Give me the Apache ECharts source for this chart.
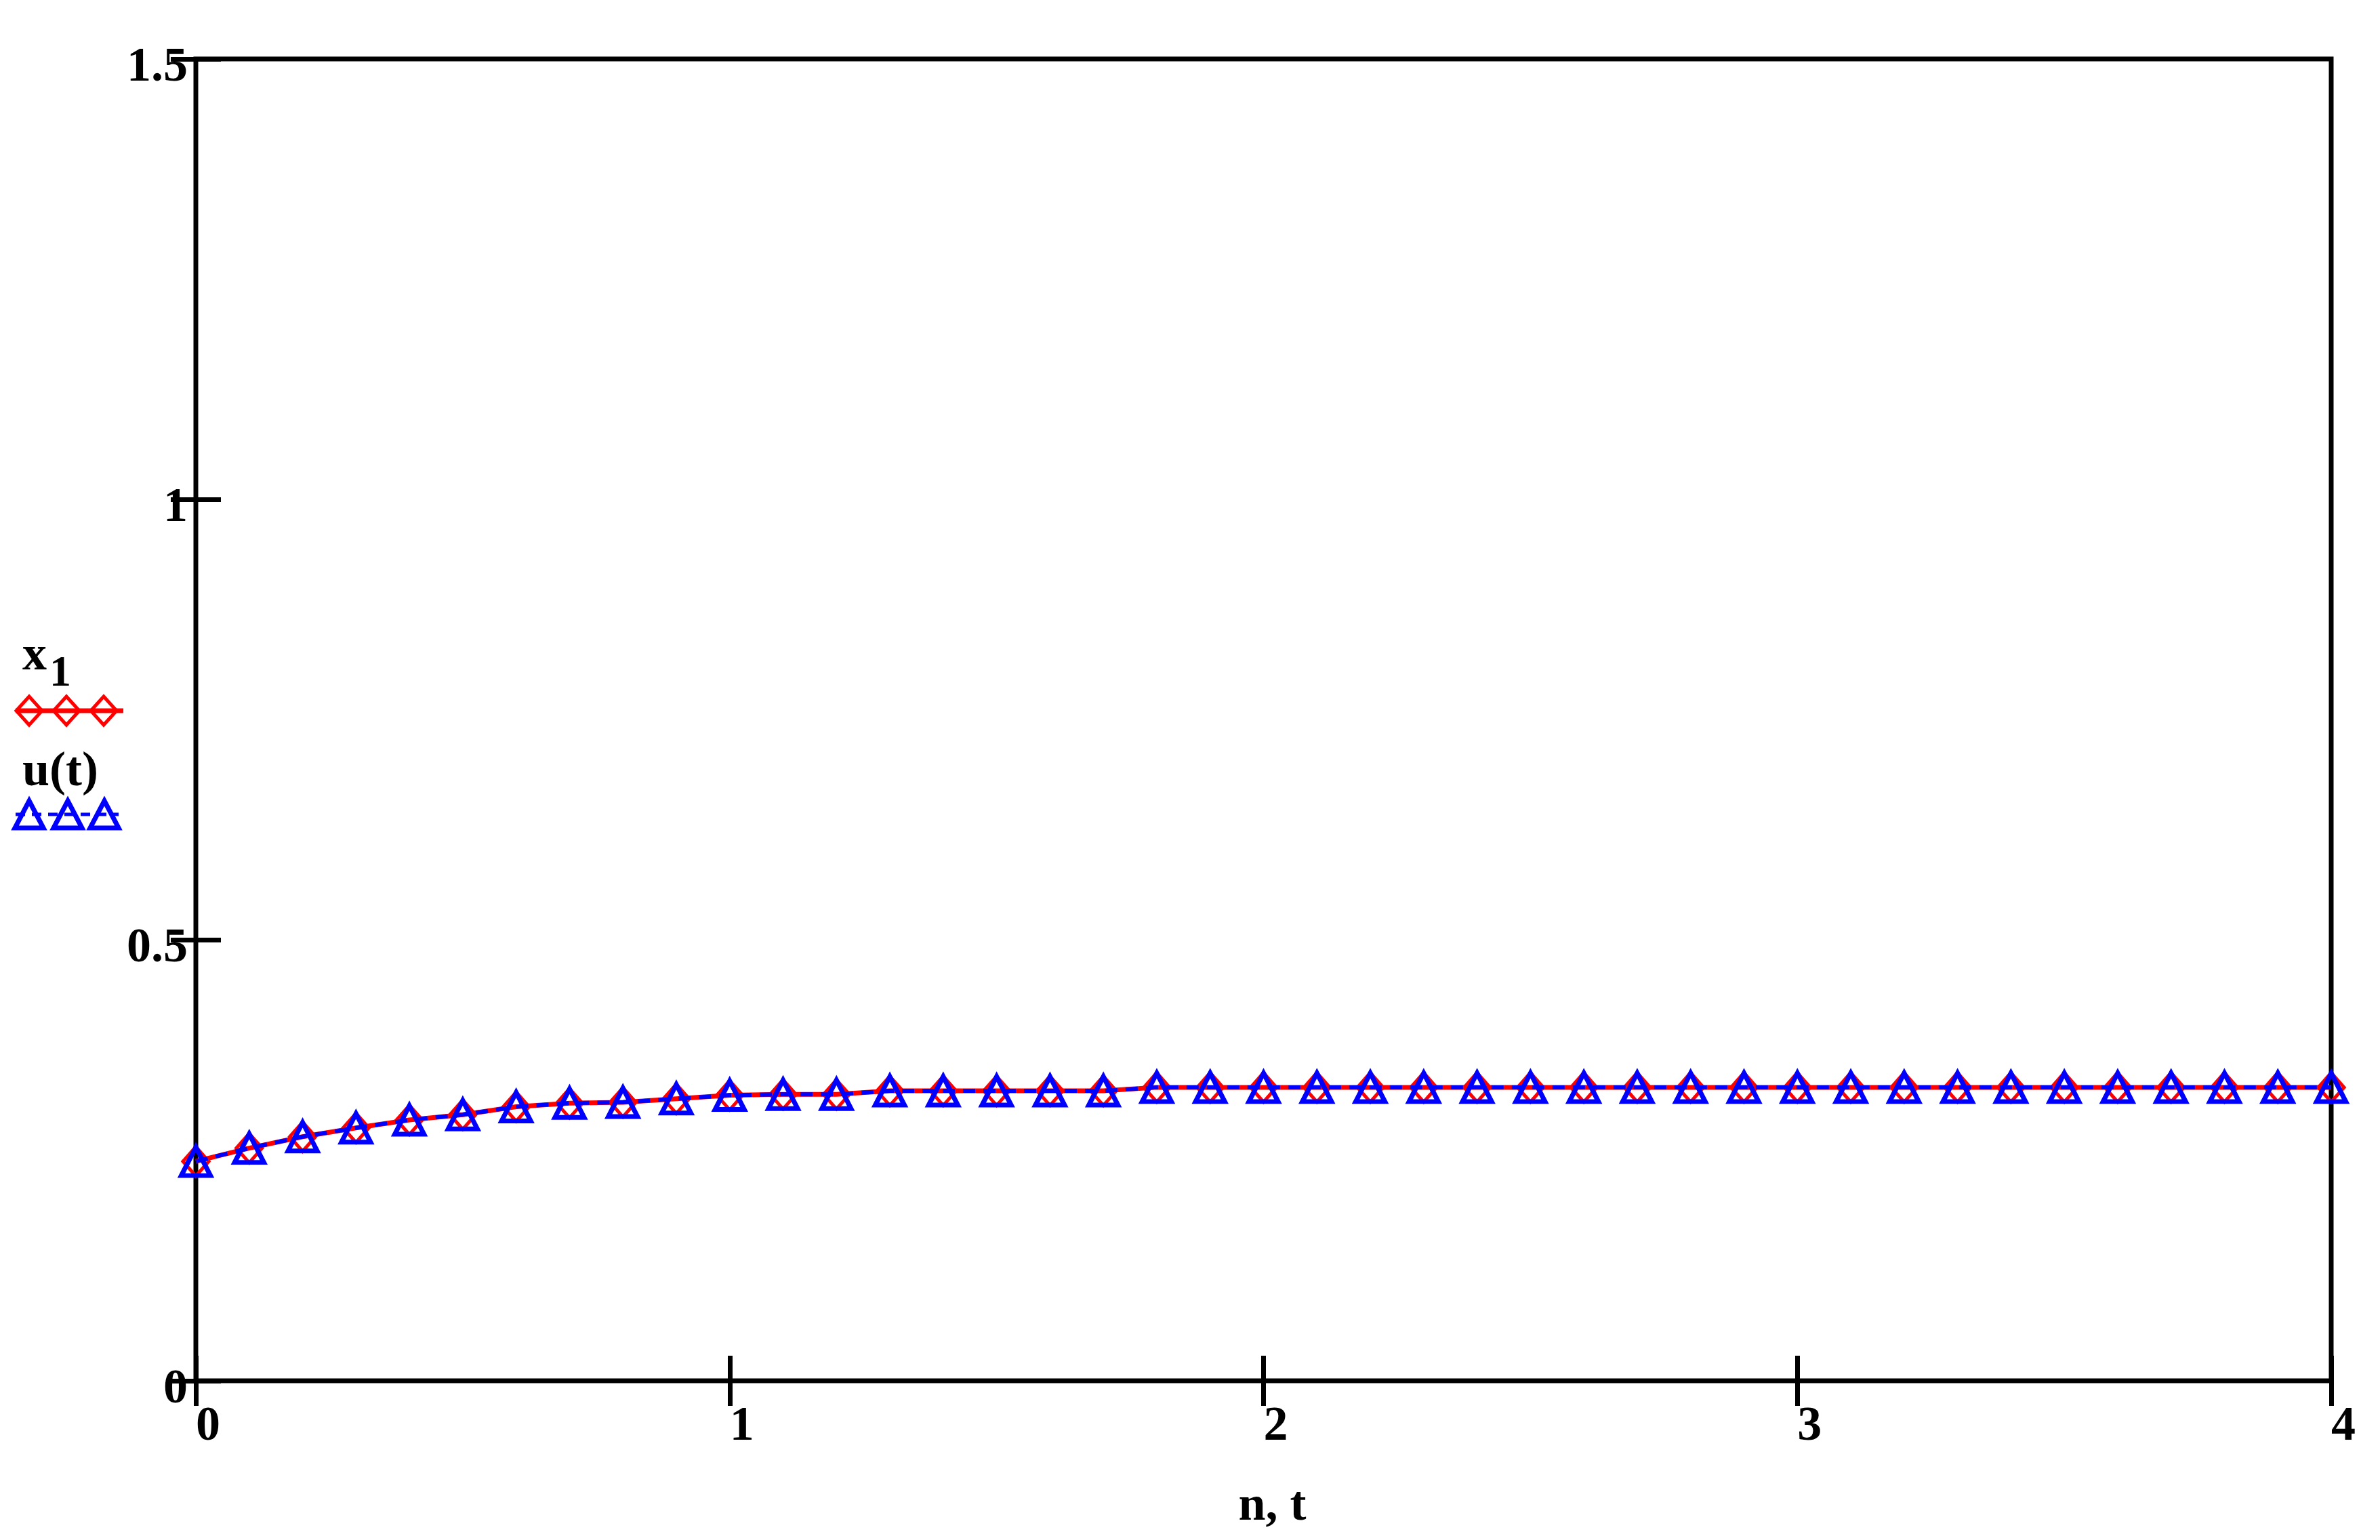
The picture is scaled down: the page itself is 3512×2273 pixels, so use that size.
<!DOCTYPE html>
<html>
<head>
<meta charset="utf-8">
<script src="https://cdn.jsdelivr.net/npm/echarts@6/dist/echarts.min.js"></script>
<style>
html,body{margin:0;padding:0;background:#fff;}
#chart{width:3512px;height:2273px;}
</style>
</head>
<body>
<div id="chart"></div>
<script>
// ---- data ----
var tValues = [0.0,0.1,0.2,0.3,0.4,0.5,0.6,0.7,0.8,0.9,
               1.0,1.1,1.2,1.3,1.4,1.5,1.6,1.7,1.8,1.9,
               2.0,2.1,2.2,2.3,2.4,2.5,2.6,2.7,2.8,2.9,
               3.0,3.1,3.2,3.3,3.4,3.5,3.6,3.7,3.8,3.9,4.0];
var x1Values = [0.249,0.264,0.277,0.287,0.296,0.302,0.311,0.315,0.316,0.320,
                0.324,0.325,0.325,0.329,0.329,0.329,0.329,0.329,0.333,0.333,
                0.333,0.333,0.333,0.333,0.333,0.333,0.333,0.333,0.333,0.333,
                0.333,0.333,0.333,0.333,0.333,0.333,0.333,0.333,0.333,0.333,0.333];
var uValues  = [0.249,0.264,0.277,0.287,0.296,0.302,0.311,0.315,0.316,0.320,
                0.324,0.325,0.325,0.329,0.329,0.329,0.329,0.329,0.333,0.333,
                0.333,0.333,0.333,0.333,0.333,0.333,0.333,0.333,0.333,0.333,
                0.333,0.333,0.333,0.333,0.333,0.333,0.333,0.333,0.333,0.333,0.333];
var xTicks = {min: 0, max: 4, interval: 1};
var yTicks = {min: 0, max: 1.5, interval: 0.5};
var xAxisName = 'n, t';
var seriesNames = ['x1', 'u(t)'];

function pairs(xs, ys){ return xs.map(function(x,i){ return [x, ys[i]]; }); }

var FONT = 'Liberation Serif';
var tickStyle = {show:true, inside:true, length:37, lineStyle:{color:'#000', width:7}};

var chart = echarts.init(document.getElementById('chart'), null, {renderer:'canvas'});
chart.setOption({
  animation:false,
  backgroundColor:'#ffffff',
  grid:{left:289, right:72, top:87, bottom:235, show:true, borderColor:'#000', borderWidth:7, backgroundColor:'transparent'},
  xAxis:[{
    type:'value', position:'bottom', min:xTicks.min, max:xTicks.max, interval:xTicks.interval,
    axisLine:{show:false}, splitLine:{show:false}, axisTick:tickStyle,
    axisLabel:{fontFamily:FONT, fontWeight:'bold', fontSize:72, color:'#000', align:'left', margin:32},
    name:xAxisName, nameLocation:'middle', nameGap:150,
    nameTextStyle:{fontFamily:FONT, fontWeight:'bold', fontSize:72, color:'#000', padding:[0,0,0,26]}
  },{
    type:'value', position:'top', min:xTicks.min, max:xTicks.max, interval:xTicks.interval,
    axisLine:{show:false}, splitLine:{show:false}, axisTick:tickStyle, axisLabel:{show:false}
  }],
  yAxis:[{
    type:'value', position:'left', min:yTicks.min, max:yTicks.max, interval:yTicks.interval,
    axisLine:{show:false}, splitLine:{show:false}, axisTick:tickStyle,
    axisLabel:{fontFamily:FONT, fontWeight:'bold', fontSize:72, color:'#000', margin:12,
               verticalAlign:'top', lineHeight:26}
  },{
    type:'value', position:'right', min:yTicks.min, max:yTicks.max, interval:yTicks.interval,
    axisLine:{show:false}, splitLine:{show:false}, axisTick:tickStyle, axisLabel:{show:false}
  }],
  series:[{
    name:seriesNames[0], type:'line', xAxisIndex:0, yAxisIndex:0,
    data:pairs(tValues, x1Values),
    symbol:'diamond', symbolSize:[38,43], showAllSymbol:true,
    lineStyle:{color:'#ff0000', width:7},
    itemStyle:{color:'transparent', borderColor:'#ff0000', borderWidth:5},
    z:2
  },{
    name:seriesNames[1], type:'line', xAxisIndex:0, yAxisIndex:0,
    data:pairs(tValues, uValues),
    symbol:'triangle', symbolSize:[43,42], showAllSymbol:true,
    lineStyle:{color:'#0000ff', width:6, type:[18,12]},
    itemStyle:{color:'transparent', borderColor:'#0000ff', borderWidth:7},
    z:3
  }],
  graphic:[
    {type:'text', left:33, top:969-36, style:{text:'x', font:'bold 72px "Liberation Serif"', fill:'#000'}},
    {type:'text', left:73, top:995-32, style:{text:'1', font:'bold 64px "Liberation Serif"', fill:'#000'}},
    {type:'line', shape:{x1:23, y1:1049, x2:182, y2:1049}, style:{stroke:'#ff0000', lineWidth:7}},
    {type:'polygon', shape:{points:[[43,1028],[62,1049],[43,1070],[24,1049]]}, style:{stroke:'#ff0000', lineWidth:5, fill:null}},
    {type:'polygon', shape:{points:[[98,1028],[117,1049],[98,1070],[79,1049]]}, style:{stroke:'#ff0000', lineWidth:5, fill:null}},
    {type:'polygon', shape:{points:[[153,1028],[172,1049],[153,1070],[134,1049]]}, style:{stroke:'#ff0000', lineWidth:5, fill:null}},
    {type:'text', left:33, top:1140-36, style:{text:'u(t)', font:'bold 72px "Liberation Serif"', fill:'#000'}},
    {type:'line', shape:{x1:23, y1:1202, x2:175, y2:1202}, style:{stroke:'#0000ff', lineWidth:5, lineDash:[14,10]}},
    {type:'polygon', shape:{points:[[43,1182],[64,1222],[22,1222]]}, style:{stroke:'#0000ff', lineWidth:7, fill:null}},
    {type:'polygon', shape:{points:[[100,1182],[121,1222],[79,1222]]}, style:{stroke:'#0000ff', lineWidth:7, fill:null}},
    {type:'polygon', shape:{points:[[154,1182],[175,1222],[133,1222]]}, style:{stroke:'#0000ff', lineWidth:7, fill:null}}
  ]
});
</script>
</body>
</html>
